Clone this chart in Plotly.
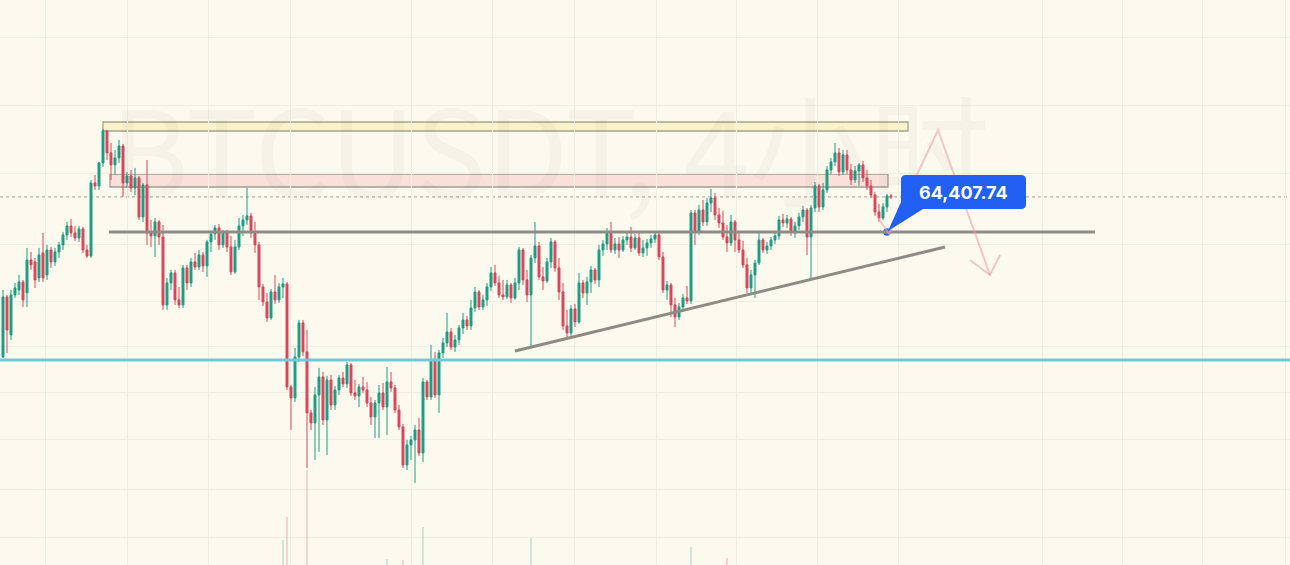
import plotly.graph_objects as go

# ---------------- data (BTCUSDT, 4h candles) ----------------
opens = [60660, 62460, 61320, 62520, 62670, 62910, 62580, 63570, 63510, 63030,
         63780, 63120, 63870, 63510, 63810, 64020, 64320, 64590, 64380, 64230,
         64500, 63870, 63690, 65880, 65790, 66480, 67440, 66780, 66420, 66630,
         66990, 65880, 66090, 65730, 66030, 64860, 65820, 64380, 64290, 64710,
         64260, 62220, 62880, 63180, 62370, 62220, 63330, 62880, 63510, 63360,
         63720, 63390, 64110, 64350, 64530, 64020, 64380, 63960, 63210, 63960,
         64590, 64770, 64890, 64410, 64020, 62760, 62310, 61830, 62610, 62370,
         62760, 62850, 59760, 59430, 60660, 61680, 60810, 58980, 58680, 59520,
         60060, 58770, 59970, 59220, 59670, 60030, 59850, 60420, 59580, 59490,
         59760, 59670, 59280, 58860, 59280, 59580, 59160, 59910, 59730, 59070,
         58560, 57420, 58020, 58170, 58470, 57780, 59910, 59460, 60570, 59520,
         60780, 61080, 61410, 60960, 61170, 61530, 61770, 61590, 62130, 62610,
         62160, 62370, 62760, 63180, 62880, 62520, 62460, 62820, 62430, 62880,
         63870, 62970, 62520, 63630, 63990, 63060, 62940, 63510, 64110, 63330,
         62610, 61590, 61380, 62100, 61710, 62880, 62580, 62910, 63270, 62970,
         63870, 64050, 64410, 63870, 64050, 63870, 64170, 64260, 63930, 64230,
         63780, 63930, 64080, 64200, 64320, 63660, 62670, 62820, 62220, 61860,
         62160, 62430, 62340, 64980, 64410, 65070, 64710, 65280, 65430, 64920,
         64680, 64260, 64080, 64710, 64170, 63870, 63420, 62730, 63120, 63480,
         64170, 63870, 63990, 64170, 64290, 64770, 64680, 64800, 64410, 64590,
         64860, 65070, 64260, 65130, 65790, 65160, 65670, 66270, 66510, 66780,
         66210, 66720, 66270, 65970, 66240, 66420, 66030, 65790, 65520, 65010,
         64830, 65160, 65490]
highs = [62670, 62520, 62670, 62880, 63120, 62970, 63930, 63810, 63630, 63930,
         64380, 64020, 63960, 63930, 64110, 64410, 64710, 64800, 64590, 64590,
         64560, 64020, 65970, 66120, 66510, 67500, 67470, 67080, 66870, 67170,
         67050, 66210, 66270, 66330, 66090, 65880, 66570, 64770, 64830, 64770,
         64620, 63030, 63270, 63270, 62760, 63420, 63420, 63630, 63780, 63870,
         63810, 64170, 64440, 64620, 64650, 64470, 64470, 64290, 64170, 64830,
         64920, 65730, 64980, 64710, 64110, 62850, 62580, 62700, 63120, 62880,
         63030, 62910, 59820, 60930, 61770, 61770, 61470, 59070, 59760, 60330,
         60210, 60090, 60120, 59790, 60120, 60210, 60510, 60480, 59970, 59850,
         60060, 59910, 59460, 59370, 59820, 59880, 60360, 60210, 59820, 59220,
         58650, 58170, 58290, 58620, 58830, 60030, 59970, 61020, 60810, 60870,
         61230, 61980, 61530, 61320, 61620, 61980, 61890, 62370, 62760, 62670,
         62520, 62880, 63360, 63420, 63090, 62970, 62970, 62880, 63030, 63960,
         63930, 63270, 63720, 64710, 64110, 63360, 63630, 64230, 64170, 63630,
         62880, 62070, 62220, 62250, 63180, 62970, 63060, 63390, 63330, 64020,
         64170, 64530, 64710, 64230, 64260, 64290, 64380, 64560, 64350, 64380,
         64170, 64200, 64320, 64410, 64440, 63810, 62940, 62880, 62430, 62280,
         62550, 62790, 65070, 65070, 65220, 65370, 65430, 65700, 65580, 65130,
         65040, 64620, 64920, 64770, 64410, 64140, 63630, 63270, 63570, 64410,
         64230, 64110, 64260, 64410, 64890, 64950, 64920, 64860, 64710, 64980,
         65190, 65130, 65220, 65910, 65850, 65880, 66390, 66630, 67080, 66930,
         66870, 66870, 66450, 66390, 66480, 66540, 66270, 65970, 65610, 65250,
         65280, 65550, 65550]
lows = [60630, 60780, 61170, 62430, 62520, 62160, 62160, 63270, 62730, 62910,
        62910, 62970, 63330, 63390, 63630, 63870, 64170, 64260, 64140, 64110,
        63780, 63630, 63630, 65670, 65670, 66360, 66570, 65970, 66120, 66480,
        65460, 65730, 65610, 65520, 64770, 64710, 64020, 63960, 63660, 64020,
        62070, 62070, 62670, 62220, 62130, 62130, 62670, 62760, 63270, 63270,
        63210, 63060, 63810, 64170, 63870, 63930, 63810, 63120, 63150, 63870,
        64290, 64620, 64230, 63780, 62370, 62190, 61710, 61770, 62250, 62280,
        62430, 59670, 58470, 59310, 60510, 60690, 57330, 58470, 57570, 57810,
        58620, 57720, 59070, 59070, 59520, 59760, 59730, 59490, 59370, 59160,
        59580, 59160, 58620, 58230, 58230, 59070, 58320, 59610, 58980, 58470,
        57330, 57270, 57570, 56880, 57690, 57510, 59370, 59370, 59430, 58980,
        60630, 60960, 60870, 60810, 61020, 61350, 61470, 61470, 62010, 62070,
        62070, 62190, 62640, 62790, 62430, 62370, 62400, 62280, 62370, 62670,
        62820, 62310, 60930, 63480, 62970, 62670, 62880, 63330, 63210, 62370,
        61470, 61230, 61290, 61560, 61650, 62430, 62220, 62580, 62850, 62760,
        63690, 63870, 63780, 63750, 63630, 63810, 64020, 63810, 63870, 63690,
        63660, 63690, 63930, 64080, 63570, 62580, 62370, 61860, 61560, 61770,
        62010, 62250, 62250, 64020, 64320, 64590, 64590, 65010, 64770, 64530,
        64170, 63810, 63990, 63810, 63780, 63330, 62580, 62520, 62430, 63420,
        63780, 63750, 63870, 64050, 64170, 64560, 64530, 64290, 64230, 64470,
        64710, 63720, 62970, 65010, 65010, 65070, 65580, 66150, 66390, 66090,
        66120, 66150, 65820, 65880, 65790, 65910, 65670, 65430, 64890, 64710,
        64770, 65010, 65400]
closes = [62460, 61470, 62520, 62730, 62910, 62370, 63570, 63420, 62970, 63720,
          63030, 63870, 63510, 63810, 64020, 64320, 64590, 64380, 64230, 64500,
          63870, 63690, 65880, 65790, 66480, 67440, 66780, 66420, 66630, 66990,
          65880, 66090, 65730, 66030, 64860, 65820, 64380, 64290, 64710, 64260,
          62220, 62880, 63180, 62370, 62220, 63330, 62880, 63510, 63360, 63720,
          63390, 64110, 64350, 64530, 64020, 64380, 63960, 63210, 63960, 64590,
          64770, 64890, 64410, 64020, 62760, 62310, 61830, 62610, 62370, 62760,
          62850, 59760, 59430, 60660, 61680, 60810, 58980, 58680, 59520, 60060,
          58770, 59970, 59220, 59670, 60030, 59850, 60420, 59580, 59490, 59760,
          59670, 59280, 58860, 59280, 59580, 59160, 59910, 59730, 59070, 58560,
          57420, 58020, 58170, 58470, 57780, 59910, 59460, 60570, 59520, 60780,
          61080, 61410, 60960, 61170, 61530, 61770, 61590, 62130, 62610, 62160,
          62370, 62760, 63180, 62880, 62520, 62460, 62820, 62430, 62880, 63870,
          62970, 62520, 63630, 63990, 63060, 62940, 63510, 64110, 63330, 62610,
          61590, 61380, 62100, 61710, 62880, 62580, 62910, 63270, 62970, 63870,
          64050, 64410, 63870, 64050, 63870, 64170, 64260, 63930, 64230, 63780,
          63930, 64080, 64200, 64320, 63660, 62670, 62820, 62220, 61860, 62160,
          62430, 62340, 64980, 64410, 65070, 64710, 65280, 65430, 64920, 64680,
          64260, 64080, 64710, 64170, 63870, 63420, 62730, 63120, 63480, 64170,
          63870, 63990, 64170, 64290, 64770, 64680, 64800, 64410, 64590, 64860,
          65070, 64260, 65130, 65790, 65160, 65670, 66270, 66510, 66780, 66210,
          66720, 66270, 65970, 66240, 66420, 66030, 65790, 65520, 65010, 64830,
          65160, 65490, 65460]

# visible volume spikes (candle index, volume)
vol_index = [70, 71, 76, 96, 100, 105, 132, 172, 181]
vol_value = [2500, 4800, 9500, 600, 500, 3800, 2700, 1800, 700]

# drawn levels / labels
label_price = 64407.74
label_text = "64,407.74"
watermark = "BTCUSDT, 4小时"
grid_x = [10.5, 31, 51.25, 71.75, 102, 122.25, 142.75, 163.25, 183.25,
          203.5, 223.75, 259.75, 279.75, 299.75, 320.5]
grid_y = [70230, 68190, 66150, 64020, 62310, 60960, 59580, 58170, 56670, 55230]

# ---------------- styling ----------------
BG = "#FCFAEE"
GRID = "#F0EDE1"
GREEN = "#1E9C84"
RED = "#DA4659"
BLUE = "#2160F3"
GREY = "#8E8B85"

# chart geometry: 4 px per candle starting at pixel 3; 30 USD per pixel
X0, X1 = -0.75, 321.75
Y_TOP = 71367.74
Y_BOT = Y_TOP - 565 * 30


def px_x(p):
    return (p - 3) / 4.0


def px_y(p):
    return Y_TOP - 30 * p


idx = list(range(len(closes)))

fig = go.Figure()

# watermark (under the candles)
fig.add_trace(go.Scatter(
    x=[px_x(550)], y=[px_y(168)], mode="text", text=[watermark],
    textfont=dict(size=120, color="rgba(70,70,70,0.04)",
                  family="Noto Sans CJK SC"),
    hoverinfo="skip", showlegend=False))

# volume spikes
vol_colors = ["rgba(30,156,132,0.35)" if closes[i] >= opens[i]
              else "rgba(218,70,89,0.35)" for i in vol_index]
fig.add_trace(go.Bar(x=vol_index, y=vol_value, yaxis="y2",
                     marker=dict(color=vol_colors, line=dict(width=0)),
                     width=0.3, hoverinfo="skip", showlegend=False))

fig.add_trace(go.Candlestick(
    x=idx, open=opens, high=highs, low=lows, close=closes,
    increasing=dict(line=dict(color=GREEN, width=1), fillcolor=GREEN),
    decreasing=dict(line=dict(color=RED, width=1), fillcolor=RED),
    whiskerwidth=0, showlegend=False, hoverinfo="skip"))

# point on the level
fig.add_trace(go.Scatter(
    x=[px_x(887)], y=[label_price], mode="markers",
    marker=dict(size=9, color=BLUE, line=dict(color="white", width=1.5)),
    hoverinfo="skip", showlegend=False))

shapes = []
# yellow zone
shapes.append(dict(type="rect", xref="x", yref="y",
                   x0=px_x(103), x1=px_x(908), y0=px_y(131), y1=px_y(122),
                   fillcolor="rgba(247,240,190,0.75)",
                   line=dict(color="#A7A58C", width=1.3), layer="below"))
# pink zone
shapes.append(dict(type="rect", xref="x", yref="y",
                   x0=px_x(110), x1=px_x(888), y0=px_y(187), y1=px_y(174),
                   fillcolor="rgba(248,214,210,0.7)",
                   line=dict(color="#A49C92", width=1.3), layer="below"))
# last price dotted line
shapes.append(dict(type="line", xref="paper", yref="y", x0=0, x1=1,
                   y0=closes[-1], y1=closes[-1],
                   line=dict(color="#A09E96", width=1, dash="dot"),
                   layer="below"))
# cyan support
shapes.append(dict(type="line", xref="paper", yref="y", x0=0, x1=1,
                   y0=px_y(360), y1=px_y(360),
                   line=dict(color="#72C8D8", width=3)))
# grey level at label price
shapes.append(dict(type="line", xref="x", yref="y",
                   x0=px_x(109), x1=px_x(1095), y0=label_price, y1=label_price,
                   line=dict(color=GREY, width=3)))
# rising trend line
shapes.append(dict(type="line", xref="x", yref="y",
                   x0=px_x(515), x1=px_x(945), y0=px_y(351), y1=px_y(247),
                   line=dict(color=GREY, width=3)))
# pink zig-zag projection
zz = [(877, 216), (889, 234), (938, 130), (990, 275)]
path = "M " + " L ".join(f"{px_x(a)},{px_y(b)}" for a, b in zz)
shapes.append(dict(type="path", xref="x", yref="y", path=path,
                   line=dict(color="rgba(240,160,170,0.6)", width=2)))
head = [(970, 260), (990, 275), (1000, 255)]
path2 = "M " + " L ".join(f"{px_x(a)},{px_y(b)}" for a, b in head)
shapes.append(dict(type="path", xref="x", yref="y", path=path2,
                   line=dict(color="rgba(240,160,170,0.6)", width=2)))
# label bubble (pixel offsets from the point)
ax, ay = px_x(887), label_price
box = ("M 19,57 L 134,57 Q 139,57 139,52 L 139,28 Q 139,23 134,23 "
       "L 19,23 Q 14,23 14,28 L 14,52 Q 14,57 19,57 Z")
shapes.append(dict(type="path", xref="x", yref="y", xsizemode="pixel",
                   ysizemode="pixel", xanchor=ax, yanchor=ay, path=box,
                   fillcolor=BLUE, line=dict(width=0)))
tail = "M 14,30 L 36,23 L 1,1 Z"
shapes.append(dict(type="path", xref="x", yref="y", xsizemode="pixel",
                   ysizemode="pixel", xanchor=ax, yanchor=ay, path=tail,
                   fillcolor=BLUE, line=dict(width=0)))

annotations = [dict(x=ax, y=ay, xref="x", yref="y", xshift=76, yshift=40,
                    text=f"<b>{label_text}</b>", showarrow=False,
                    font=dict(family="Inter", size=18, color="white"))]

fig.update_layout(
    width=1290, height=565,
    margin=dict(l=0, r=0, t=0, b=0),
    paper_bgcolor=BG, plot_bgcolor=BG,
    showlegend=False, hovermode=False,
    boxgap=0.3,
    xaxis=dict(range=[X0, X1], tickvals=grid_x, showticklabels=False,
               showgrid=True, gridcolor=GRID, gridwidth=1, zeroline=False,
               showline=False, ticks="", rangeslider=dict(visible=False),
               fixedrange=True),
    yaxis=dict(range=[Y_BOT, Y_TOP], tickvals=grid_y, showticklabels=False,
               showgrid=True, gridcolor=GRID, gridwidth=1, zeroline=False,
               showline=False, ticks="", fixedrange=True),
    yaxis2=dict(range=[0, 56500], overlaying="y", showgrid=False,
                showticklabels=False, zeroline=False, visible=False),
    shapes=shapes, annotations=annotations,
)

fig.write_html("out.html", config=dict(displayModeBar=False, staticPlot=True))
